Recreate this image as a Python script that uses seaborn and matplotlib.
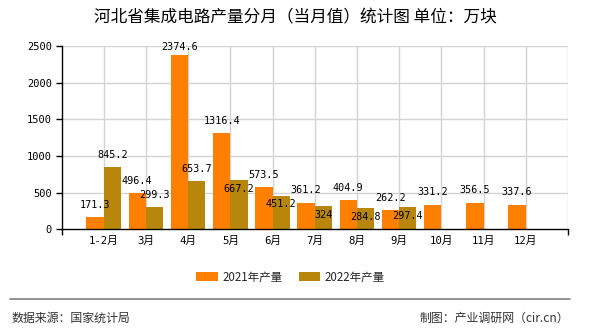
import numpy as np
import pandas as pd
import matplotlib
matplotlib.use("Agg")
import matplotlib.pyplot as plt
import seaborn as sns
from matplotlib.patches import Patch
from matplotlib.lines import Line2D

# ---------------- data ----------------
months = ['1-2月', '3月', '4月', '5月', '6月', '7月', '8月', '9月', '10月', '11月', '12月']
prod_2021 = [171.3, 496.4, 2374.6, 1316.4, 573.5, 361.2, 404.9, 262.2, 331.2, 356.5, 337.6]
prod_2022 = [845.2, 299.3, 653.7, 667.2, 451.2, 324, 284.8, 297.4, None, None, None]
series_names = ['2021年产量', '2022年产量']
yticks = [0, 500, 1000, 1500, 2000, 2500]
title = '河北省集成电路产量分月（当月值）统计图 单位：万块'
source_text = '数据来源：国家统计局'
credit_text = '制图：产业调研网（cir.cn）'

# label vertical offsets (pixels, + above bar top, - below)
off_2021 = [12, 12, 8.5, 12, 12, 13, 12, 12, 13, 13, 13]
off_2022 = [12.8, 12, 12, -9, -8, -9, -8.5, -9]

colors = ['#FF8000', '#B8860B']

rows = []
for m, v in zip(months, prod_2021):
    rows.append((m, series_names[0], v))
for m, v in zip(months, prod_2022):
    if v is not None:
        rows.append((m, series_names[1], v))
df = pd.DataFrame(rows, columns=['month', 'series', 'value'])

# ---------------- figure ----------------
sns.set_theme(style='white')
plt.rcParams['font.family'] = ['DejaVu Sans Mono', 'Noto Sans CJK SC']
DPI = 100
fig = plt.figure(figsize=(5.9, 3.3), dpi=DPI)
W, H = 590, 330
L, R, T, B = 61.5, 568, 46, 229.3
ax = fig.add_axes([L / W, 1 - B / H, (R - L) / W, (B - T) / H])

sns.barplot(data=df, x='month', y='value', hue='series', order=months,
            hue_order=series_names, palette=colors, width=0.82,
            saturation=1, ax=ax, legend=False, errorbar=None, linewidth=0)

ax.set_xlim(-1, len(months))
ax.set_ylim(0, 2500)
ax.set_yticks(yticks)
ax.set_yticklabels([str(t) for t in yticks], fontsize=7.5,
                   family=['DejaVu Sans Mono'], color='black')
ax.set_xticks(range(len(months)))
ax.set_xticklabels(months, fontsize=7.7, family=['DejaVu Sans Mono', 'Noto Sans CJK SC'],
                   color='black')
ax.set_xlabel('')
ax.set_ylabel('')

# grid
gc = '#D3D3D3'
for t in yticks[1:]:
    ax.axhline(t, color=gc, lw=1, zorder=0)
for i in range(len(months)):
    ax.axvline(i, color=gc, lw=1, zorder=0)
ax.axvline(len(months), color=gc, lw=1, zorder=0)

for s in ['top', 'right']:
    ax.spines[s].set_visible(False)
for s in ['left', 'bottom']:
    ax.spines[s].set_visible(True)
    ax.spines[s].set_color('black')
    ax.spines[s].set_linewidth(1)
    ax.spines[s].set_zorder(5)

ax.tick_params(axis='y', which='major', length=4, width=1, color='black',
               pad=3, left=True)
ax.tick_params(axis='x', which='major', length=0, pad=5)
ax.set_xticks([-1, len(months)], minor=True)
ax.tick_params(axis='x', which='minor', length=4, width=1, color='black', bottom=True)

# value labels
def fmt(v):
    return f'{v:g}'

for cont, vals, offs in zip(ax.containers, [prod_2021, [v for v in prod_2022 if v is not None]],
                            [off_2021, off_2022]):
    for patch, v, o in zip(cont.patches, vals, offs):
        x = patch.get_x() + patch.get_width() / 2
        y = patch.get_height()
        ax.annotate(fmt(v), (x, y), xytext=(0, o * 72 / DPI), textcoords='offset points',
                    ha='center', va='center', fontsize=7.3,
                    family=['DejaVu Sans Mono'], color='black',
                    annotation_clip=False, zorder=6)

# title
fig.text(0.5, 1 - 18 / H, title, ha='center', va='center', fontsize=12,
         family=['Noto Sans CJK SC', 'DejaVu Sans'], color='black')

# legend
handles = [Patch(facecolor=c, edgecolor='none') for c in colors]
fig.legend(handles, series_names, loc='center', bbox_to_anchor=(290.5 / W, 1 - 277 / H),
           ncol=2, frameon=False, prop={'family': ['Noto Sans CJK SC'], 'size': 8.3},
           handlelength=1.9, handleheight=0.8, handletextpad=0.35, columnspacing=1.4,
           borderaxespad=0, borderpad=0)

# footer
fig.add_artist(Line2D([10 / W, 570 / W], [1 - 299 / H, 1 - 299 / H], color='#808080', lw=1.2))
fig.text(12 / W, 1 - 318 / H, source_text, ha='left', va='center', fontsize=8.6,
         family=['Noto Sans CJK SC'], color='#333333')
fig.text(569 / W, 1 - 318 / H, credit_text, ha='right', va='center', fontsize=8.6,
         family=['Noto Sans CJK SC'], color='#333333')

fig.savefig('out.png', dpi=DPI)
